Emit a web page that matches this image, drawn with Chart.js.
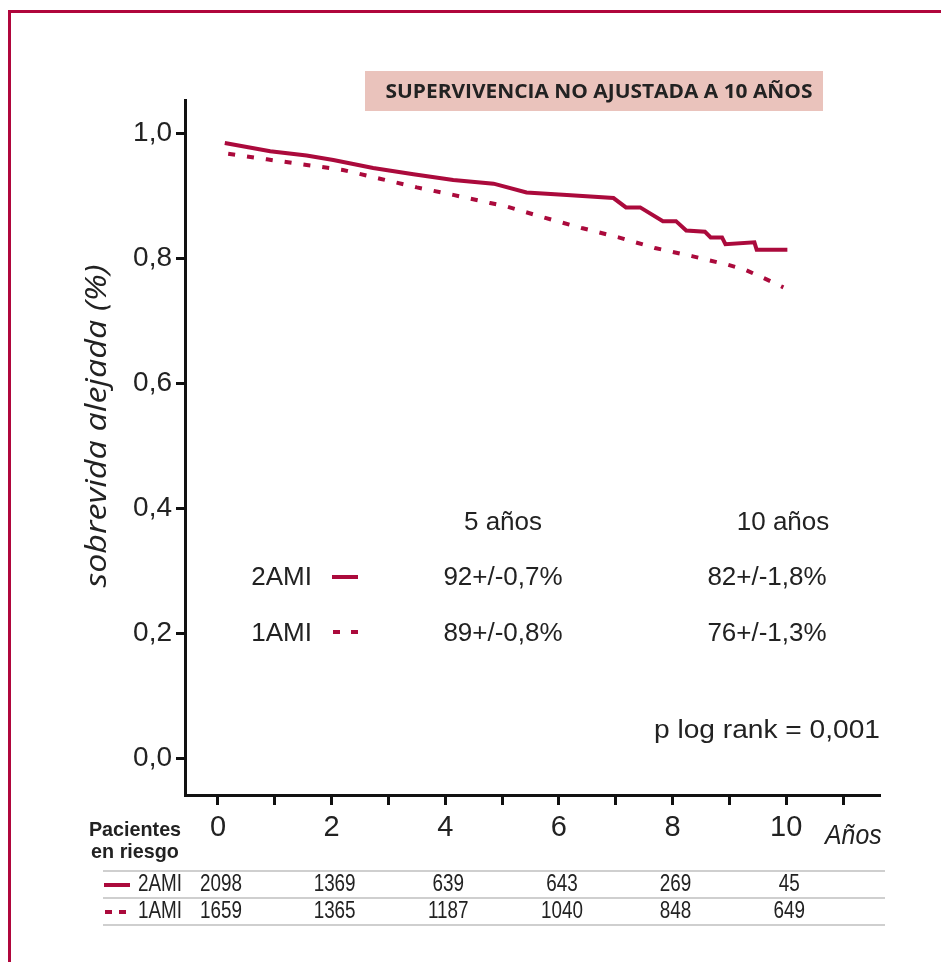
<!DOCTYPE html>
<html lang="es">
<head>
<meta charset="utf-8">
<title>Supervivencia no ajustada a 10 años</title>
<script src="https://cdn.jsdelivr.net/npm/chart.js@4.4.1/dist/chart.umd.min.js"></script>
<style>
  html, body { margin: 0; padding: 0; background: #fff; }
  #wrap { position: relative; width: 941px; height: 962px; overflow: hidden; }
  #frame {
    position: absolute; left: 8px; top: 10px; right: -10px; bottom: -10px;
    border-top: 3px solid #b0063c; border-left: 3px solid #b0063c;
  }
  canvas { position: absolute; left: 0; top: 0; }
</style>
</head>
<body>
<div id="wrap">
  <div id="frame"></div>
  <canvas id="km" width="941" height="962"></canvas>
</div>
<script>
// axis ticks
const xTicks = [0, 1, 2, 3, 4, 5, 6, 7, 8, 9, 10, 11];
const yTicks = [0, 0.2, 0.4, 0.6, 0.8, 1.0];

// survival curves (years, survival)
const years2AMI = [0.12, 0.92, 1.56, 2.03, 2.73, 3.44, 4.14, 4.85, 5.43, 6.14, 6.96, 7.18, 7.43, 7.83, 8.06, 8.24, 8.57, 8.67, 8.87, 8.93, 9.44, 9.48, 10.02];
const surv2AMI  = [0.985, 0.972, 0.965, 0.958, 0.945, 0.935, 0.926, 0.920, 0.906, 0.902, 0.897, 0.882, 0.882, 0.860, 0.860, 0.845, 0.843, 0.834, 0.834, 0.823, 0.826, 0.814, 0.814];
const years1AMI = [0.18, 0.86, 1.56, 2.2, 2.85, 3.5, 4.14, 4.79, 5.1, 5.73, 6.4, 7.05, 7.69, 8.34, 8.98, 9.28, 9.6, 9.95];
const surv1AMI  = [0.968, 0.959, 0.950, 0.942, 0.928, 0.914, 0.902, 0.889, 0.883, 0.866, 0.849, 0.834, 0.817, 0.804, 0.790, 0.782, 0.769, 0.754];

// patients at risk
const riskYears = [0, 2, 4, 6, 8, 10];
const risk2AMI = [2098, 1369, 639, 643, 269, 45];
const risk1AMI = [1659, 1365, 1187, 1040, 848, 649];

// inset summary
const groups = ['2AMI', '1AMI'];
const horizons = ['5 años', '10 años'];
const rates2AMI = ['92+/-0,7%', '82+/-1,8%'];
const rates1AMI = ['89+/-0,8%', '76+/-1,3%'];
const pText = 'p log rank = 0,001';

const red = '#ab0a3c';
const ink = '#222';
const sans = '"Liberation Sans", Arial, sans-serif';

// draw text squeezed/stretched horizontally
function squeezeText(ctx, text, cx, cy, sx) {
  ctx.save();
  ctx.translate(cx, cy);
  ctx.scale(sx, 1);
  ctx.fillText(text, 0, 0);
  ctx.restore();
}

// draw text fitted to a given width
function fitText(ctx, text, cx, cy, width) {
  squeezeText(ctx, text, cx, cy, width / ctx.measureText(text).width);
}

function solidMark(ctx, x1, x2, y) {
  ctx.fillStyle = red;
  ctx.fillRect(x1, y - 2, x2 - x1, 4);
}

function dashMark(ctx, x1, x2, y) {
  ctx.fillStyle = red;
  ctx.fillRect(x1, y - 2, 7, 4);
  ctx.fillRect(x2 - 7, y - 2, 7, 4);
}

const decor = {
  id: 'decor',
  afterDraw(chart) {
    const { ctx } = chart;
    const x = chart.scales.x;
    ctx.save();

    // title box
    ctx.fillStyle = '#eac3bc';
    ctx.fillRect(365, 71, 458, 40);
    ctx.fillStyle = ink;
    ctx.font = 'bold 20px "Open Sans", sans-serif';
    ctx.textAlign = 'center';
    ctx.textBaseline = 'middle';
    fitText(ctx, 'SUPERVIVENCIA NO AJUSTADA A 10 AÑOS', 599, 92, 427);

    // y axis title
    ctx.save();
    ctx.translate(97, 426);
    ctx.rotate(-Math.PI / 2);
    ctx.font = 'italic 30px "Open Sans", sans-serif';
    fitText(ctx, 'sobrevida alejada (%)', 0, 0, 323);
    ctx.restore();

    // x axis unit
    ctx.font = 'italic 27px ' + sans;
    ctx.textAlign = 'left';
    squeezeText(ctx, 'Años', 825, 836, 0.92);

    // inset summary
    ctx.font = '26px ' + sans;
    ctx.textAlign = 'center';
    ctx.fillText(horizons[0], 503, 523);
    ctx.fillText(horizons[1], 783, 523);
    ctx.fillText(rates2AMI[0], 503, 578);
    ctx.fillText(rates2AMI[1], 767, 578);
    ctx.fillText(rates1AMI[0], 503, 634);
    ctx.fillText(rates1AMI[1], 767, 634);
    ctx.textAlign = 'right';
    ctx.fillText(groups[0], 312, 578);
    ctx.fillText(groups[1], 312, 634);
    fitText(ctx, pText, 880, 731, 226);
    solidMark(ctx, 332, 358, 577);
    dashMark(ctx, 333, 358, 632);

    // patients at risk table
    ctx.fillStyle = ink;
    ctx.font = 'bold 21px ' + sans;
    ctx.textAlign = 'center';
    squeezeText(ctx, 'Pacientes', 135, 830, 0.94);
    squeezeText(ctx, 'en riesgo', 135, 852, 0.94);

    ctx.strokeStyle = '#cfcfcf';
    ctx.lineWidth = 2;
    [871, 898, 925].forEach(yy => {
      ctx.beginPath();
      ctx.moveTo(103, yy);
      ctx.lineTo(885, yy);
      ctx.stroke();
    });

    solidMark(ctx, 104, 130, 885);
    dashMark(ctx, 105, 126, 912);
    ctx.fillStyle = ink;
    ctx.font = '23px ' + sans;
    ctx.textAlign = 'left';
    squeezeText(ctx, groups[0], 138, 885, 0.82);
    squeezeText(ctx, groups[1], 138, 912, 0.82);
    ctx.textAlign = 'center';
    riskYears.forEach((yr, i) => {
      const px = x.getPixelForValue(yr) + 3;
      squeezeText(ctx, String(risk2AMI[i]), px, 885, 0.82);
      squeezeText(ctx, String(risk1AMI[i]), px, 912, 0.82);
    });

    ctx.restore();
  }
};

new Chart(document.getElementById('km'), {
  type: 'line',
  data: {
    datasets: [
      {
        label: groups[0],
        data: years2AMI.map((t, i) => ({ x: t, y: surv2AMI[i] })),
        borderColor: red,
        borderWidth: 4,
        pointRadius: 0,
        tension: 0,
        fill: false
      },
      {
        label: groups[1],
        data: years1AMI.map((t, i) => ({ x: t, y: surv1AMI[i] })),
        borderColor: red,
        borderWidth: 4,
        borderDash: [7, 12],
        borderCapStyle: 'butt',
        pointRadius: 0,
        tension: 0,
        fill: false
      }
    ]
  },
  options: {
    responsive: false,
    animation: false,
    layout: { padding: { left: 0, top: 100, right: 61, bottom: 0 } },
    plugins: { legend: { display: false }, tooltip: { enabled: false } },
    scales: {
      x: {
        type: 'linear',
        min: -0.58,
        max: 11.65,
        afterFit: s => { s.height = 167; },
        afterBuildTicks: s => { s.ticks = xTicks.map(v => ({ value: v })); },
        grid: { drawOnChartArea: false, drawTicks: true, tickLength: 10, tickWidth: 3, tickColor: '#111' },
        border: { display: true, color: '#111', width: 3 },
        ticks: {
          autoSkip: false,
          maxRotation: 0,
          padding: 6,
          color: ink,
          font: { family: sans, size: 29 },
          callback: v => (v % 2 === 0 ? String(v) : '')
        }
      },
      y: {
        type: 'linear',
        min: -0.059,
        max: 1.054,
        afterFit: s => { s.width = 185; },
        afterBuildTicks: s => { s.ticks = yTicks.map(v => ({ value: v })); },
        grid: { drawOnChartArea: false, drawTicks: true, tickLength: 9, tickWidth: 3, tickColor: '#111' },
        border: { display: true, color: '#111', width: 3 },
        ticks: {
          padding: 4,
          color: ink,
          font: { family: sans, size: 28 },
          callback: v => v.toFixed(1).replace('.', ',')
        }
      }
    }
  },
  plugins: [decor]
});
</script>
</body>
</html>
